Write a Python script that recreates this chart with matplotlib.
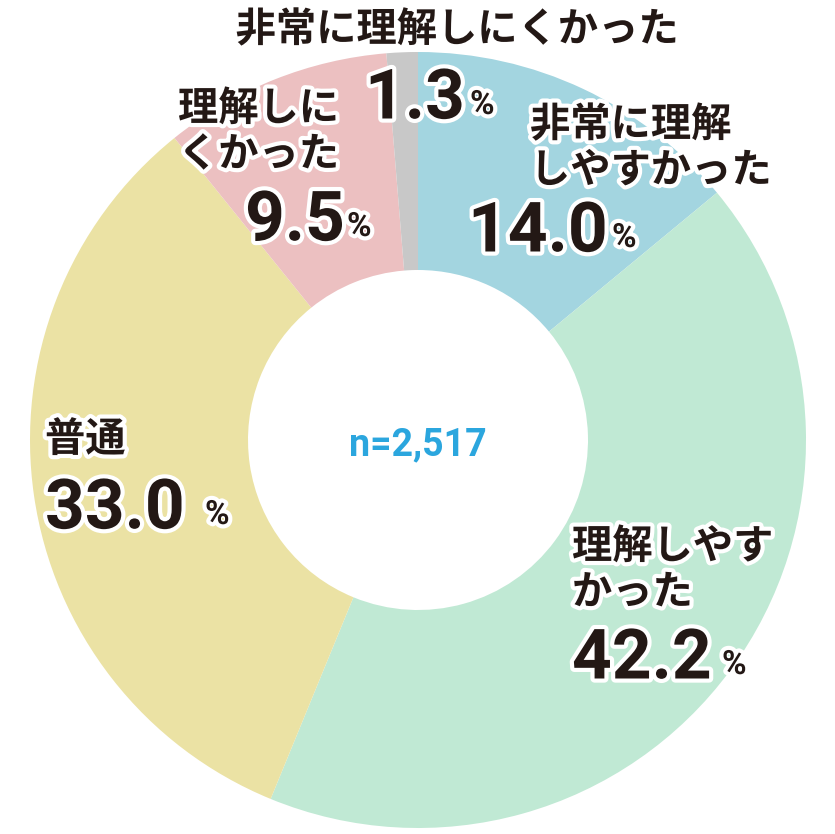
import matplotlib.pyplot as plt
import matplotlib.patheffects as pe

plt.rcParams['font.family'] = ['Noto Sans CJK JP', 'DejaVu Sans']

labels = ["非常に理解\nしやすかった", "理解しやす\nかった", "普通", "理解しに\nくかった", "非常に理解しにくかった"]
values = [14.0, 42.2, 33.0, 9.5, 1.3]
colors = ["#a3d5e0", "#c0e9d4", "#ebe2a4", "#ecc0c1", "#c8c8c8"]
n_total = "n=2,517"

W, H = 835, 834
fig = plt.figure(figsize=(W / 100, H / 100), dpi=100)
ax = fig.add_axes([0, 0, 1, 1])

cx, cy, r_out, r_in = 418, H - 440, 388, 170
ax.pie(values, colors=colors, startangle=90, counterclock=False,
       center=(cx, cy), radius=r_out,
       wedgeprops=dict(width=r_out - r_in, linewidth=0))
ax.set_xlim(0, W)
ax.set_ylim(0, H)
ax.set_aspect("equal")
ax.axis("off")

ax.text(cx, H - 445, n_total, ha="center", va="center", fontsize=27,
        fontweight="bold", color="#2ba6de", family="Roboto")

dark = "#231815"
stroke = [pe.withStroke(linewidth=6, foreground="white")]

# (label lines position, number position, percent position)
placements = [
    ((530, 148, "left"), (468, 233), (612, 238)),
    ((572, 570, "left"), (572, 660), (722, 665)),
    ((45, 440, "left"), (45, 510), (205, 515)),
    ((178, 132, "left"), (245, 222), (347, 227)),
    ((457, 30, "center"), (365, 100), (470, 105)),
]

for lab, val, (lp, np_, pp) in zip(labels, values, placements):
    ax.text(lp[0], H - lp[1], lab, ha=lp[2], va="center", fontsize=29,
            fontweight="bold", color=dark, linespacing=1.15, path_effects=stroke)
    ax.text(np_[0], H - np_[1], f"{val:.1f}", ha="left", va="center",
            fontsize=50, fontweight="bold", color=dark, family="Roboto",
            path_effects=stroke)
    ax.text(pp[0], H - pp[1], "%", ha="left", va="center", fontsize=24,
            fontweight="bold", color=dark, family="Roboto", path_effects=stroke)

fig.savefig("out.png", dpi=100)
